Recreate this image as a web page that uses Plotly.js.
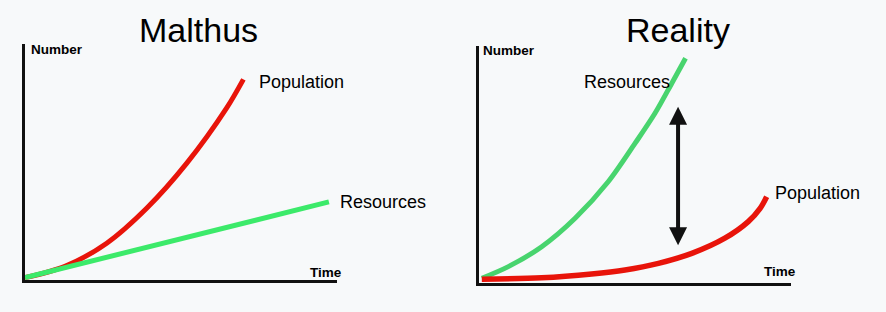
<!DOCTYPE html>
<html>
<head>
<meta charset="utf-8">
<script src="https://cdn.plot.ly/plotly-3.0.1.min.js"></script>
<style>html,body{margin:0;padding:0;background:#f7f9fa;}#chart{width:886px;height:312px;}</style>
</head>
<body>
<div id="chart"></div>
<script>
// Malthus panel
var malthusPopX = [0, 1.3, 2.62, 3.90, 5.18, 6.46, 7.0];
var malthusPopY = [0.1, 0.59, 1.56, 3.04, 4.94, 7.28, 8.50];
var malthusResX = [0, 9.74];
var malthusResY = [0.1, 3.31];
// Reality panel
var realityResX = [0.09, 0.94, 2.01, 3.08, 4.14, 5.0, 5.64, 6.18, 6.62];
var realityResY = [0.20, 0.69, 1.53, 2.73, 4.27, 5.89, 7.16, 8.43, 9.48];
var realityPopX = [0.09, 2.01, 3.61, 4.68, 5.75, 6.82, 7.88, 8.63, 9.01, 9.22];
var realityPopY = [0.16, 0.22, 0.38, 0.55, 0.83, 1.25, 1.89, 2.59, 3.15, 3.64];
// gap arrow in Reality panel: x, top y, bottom y
var gapArrow = [6.38, 7.44, 1.53];

var panelTitles = ["Malthus", "Reality"];
var yLabel = "Number";
var xLabel = "Time";
var seriesNames = ["Population", "Resources"];

var W = 886, H = 312;
function px(x){ return x / W; }
function py(y){ return 1 - y / H; }

var red = "#e8140a";
var greenL = "#3cea6a";
var greenR = "#48d46e";

var traces = [
  {x: malthusPopX, y: malthusPopY, xaxis: "x", yaxis: "y", mode: "lines", line: {color: red, width: 5, shape: "spline", smoothing: 0.9}, name: seriesNames[0], hoverinfo: "skip"},
  {x: malthusResX, y: malthusResY, xaxis: "x", yaxis: "y", mode: "lines", line: {color: greenL, width: 5}, name: seriesNames[1], hoverinfo: "skip"},
  {x: realityResX, y: realityResY, xaxis: "x2", yaxis: "y2", mode: "lines", line: {color: greenR, width: 5, shape: "spline", smoothing: 0.9}, name: seriesNames[1], hoverinfo: "skip"},
  {x: realityPopX, y: realityPopY, xaxis: "x2", yaxis: "y2", mode: "lines", line: {color: red, width: 5.5, shape: "spline", smoothing: 0.9}, name: seriesNames[0], hoverinfo: "skip"}
];

function ax(domain, anchor){
  return {domain: domain, anchor: anchor, range: [0, 10], showline: true, linewidth: 3, linecolor: "#111",
          showgrid: false, zeroline: false, showticklabels: false, ticks: "", fixedrange: true};
}

var layout = {
  width: W, height: H,
  margin: {l: 0, r: 0, t: 0, b: 0},
  paper_bgcolor: "#f7f9fa", plot_bgcolor: "#f7f9fa",
  showlegend: false,
  font: {family: "Liberation Sans, Arial, sans-serif", color: "#000"},
  xaxis: ax([px(25), px(337)], "y"),
  yaxis: ax([py(280), py(44)], "x"),
  xaxis2: ax([px(479), px(791)], "y2"),
  yaxis2: ax([py(283), py(46)], "x2"),
  annotations: [
    {text: panelTitles[0], xref: "paper", yref: "paper", x: px(198), y: py(30), xanchor: "center", yanchor: "middle", showarrow: false, font: {size: 34}},
    {text: panelTitles[1], xref: "paper", yref: "paper", x: px(678), y: py(30), xanchor: "center", yanchor: "middle", showarrow: false, font: {size: 34}},
    {text: "<b>" + yLabel + "</b>", xref: "paper", yref: "paper", x: px(28.5), y: py(50), xanchor: "left", yanchor: "middle", showarrow: false, font: {size: 13.5}},
    {text: "<b>" + xLabel + "</b>", xref: "paper", yref: "paper", x: px(307.5), y: py(272), xanchor: "left", yanchor: "middle", showarrow: false, font: {size: 13.5}},
    {text: "<b>" + yLabel + "</b>", xref: "paper", yref: "paper", x: px(481.5), y: py(51), xanchor: "left", yanchor: "middle", showarrow: false, font: {size: 13.5}},
    {text: "<b>" + xLabel + "</b>", xref: "paper", yref: "paper", x: px(761.5), y: py(271), xanchor: "left", yanchor: "middle", showarrow: false, font: {size: 13.5}},
    {text: seriesNames[0], xref: "paper", yref: "paper", x: px(257), y: py(82), xanchor: "left", yanchor: "middle", showarrow: false, font: {size: 18}},
    {text: seriesNames[1], xref: "paper", yref: "paper", x: px(338), y: py(202), xanchor: "left", yanchor: "middle", showarrow: false, font: {size: 18}},
    {text: seriesNames[1], xref: "paper", yref: "paper", x: px(582), y: py(82), xanchor: "left", yanchor: "middle", showarrow: false, font: {size: 18}},
    {text: seriesNames[0], xref: "paper", yref: "paper", x: px(773), y: py(193), xanchor: "left", yanchor: "middle", showarrow: false, font: {size: 18}},
    {text: "", xref: "x2", yref: "y2", axref: "x2", ayref: "y2", x: gapArrow[0], y: gapArrow[1], ax: gapArrow[0], ay: gapArrow[2],
     showarrow: true, arrowhead: 2, arrowside: "end+start", arrowsize: 0.9, arrowwidth: 4, arrowcolor: "#111", standoff: 0, startstandoff: 0}
  ]
};

Plotly.newPlot("chart", traces, layout, {displayModeBar: false, staticPlot: true});
</script>
</body>
</html>
